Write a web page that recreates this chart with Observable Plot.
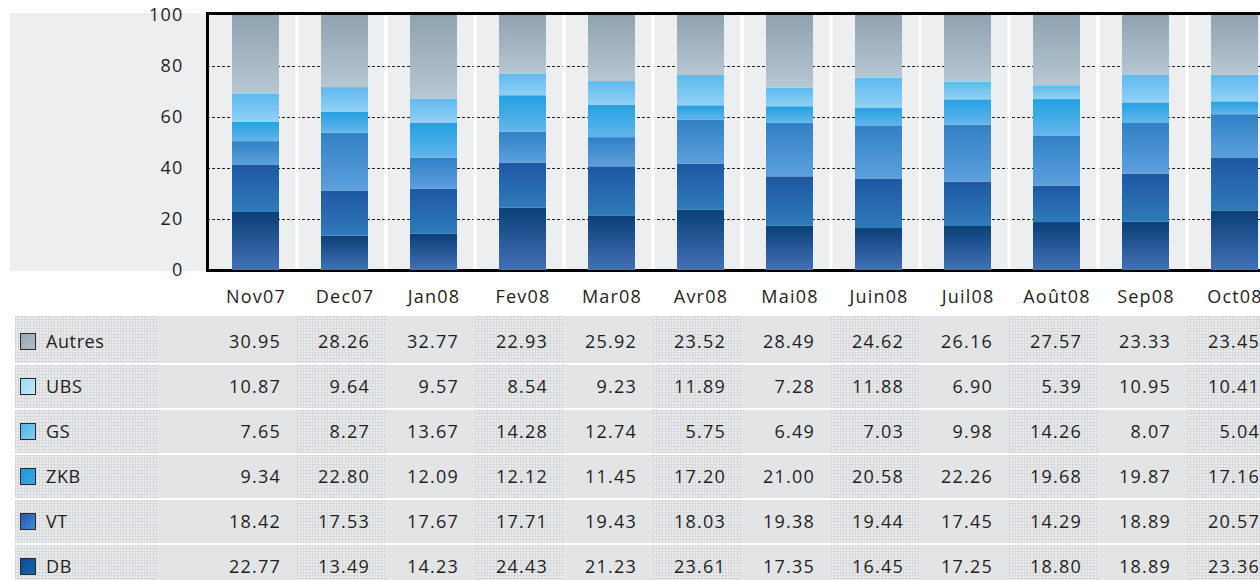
<!DOCTYPE html>
<html><head><meta charset="utf-8">
<script src="https://cdn.jsdelivr.net/npm/d3@7"></script>
<script src="https://cdn.jsdelivr.net/npm/@observablehq/plot@0.6"></script>
<style>
body{margin:0;background:#fff;overflow:hidden;font-family:"Open Sans",sans-serif;}
#wrap{position:relative;width:1290px;height:580px;overflow:hidden;}
#panel{position:absolute;left:10px;top:13px;width:1280px;height:258px;background:#edeef0;}
#chart{position:absolute;left:0;top:0;}
.cell{position:absolute;box-sizing:border-box;}
.tex{background-color:#e9eaeb;background-image:linear-gradient(rgba(200,202,205,.45) 1px,transparent 1px),linear-gradient(90deg,rgba(200,202,205,.45) 1px,transparent 1px);background-size:3px 3px;}
.plain{background:#e3e4e6;}
.txt{position:absolute;font-size:18px;letter-spacing:1.2px;color:#1e1e1e;white-space:nowrap;}
.sw{position:absolute;width:16px;height:17px;box-sizing:border-box;border:1px solid #2a2a2a;}
</style>
</head><body>
<div id="wrap"><div id="panel"></div><div id="chart"></div></div>
<script>
const months = ["Nov07","Dec07","Jan08","Fev08","Mar08","Avr08","Mai08","Juin08","Juil08","Août08","Sep08","Oct08"];
const tableOrder = ["Autres","UBS","GS","ZKB","VT","DB"];
const stackOrder = ["DB","VT","ZKB","GS","UBS","Autres"];
const autres = [30.95,28.26,32.77,22.93,25.92,23.52,28.49,24.62,26.16,27.57,23.33,23.45];
const ubs    = [10.87,9.64,9.57,8.54,9.23,11.89,7.28,11.88,6.90,5.39,10.95,10.41];
const gs     = [7.65,8.27,13.67,14.28,12.74,5.75,6.49,7.03,9.98,14.26,8.07,5.04];
const zkb    = [9.34,22.80,12.09,12.12,11.45,17.20,21.00,20.58,22.26,19.68,19.87,17.16];
const vt     = [18.42,17.53,17.67,17.71,19.43,18.03,19.38,19.44,17.45,14.29,18.89,20.57];
const db     = [22.77,13.49,14.23,24.43,21.23,23.61,17.35,16.45,17.25,18.80,18.89,23.36];
const yTicks = [0,20,40,60,80,100];
const gridTicks = [20,40,60,80];

const valuesBySeries = {Autres: autres, UBS: ubs, GS: gs, ZKB: zkb, VT: vt, DB: db};
const gradients = {
  Autres: ["#8fa2b0","#b7c7d3"],
  UBS: ["#5db9ed","#92d1f5"],
  GS: ["#23a0e2","#64b6ea"],
  ZKB: ["#3180c5","#5ca0dc"],
  VT: ["#1e57a4","#2f7bba"],
  DB: ["#0a3f77","#4371b7"]
};
const swatches = {
  Autres: ["#97a9b6","#aebdc8"],
  UBS: ["#9ed8f6","#c3e9fb"],
  GS: ["#4fb5e8","#86cdf1"],
  ZKB: ["#1d97d6","#3aa9e2"],
  VT: ["#2a58b0","#3f8bd0"],
  DB: ["#0b4f93","#1664ab"]
};

const data = stackOrder.flatMap(s => months.map((m, i) => ({month: m, series: s, value: valuesBySeries[s][i]})));

const chart = Plot.plot({
  width: 1290, height: 310,
  marginLeft: 207, marginRight: 0, marginTop: 15, marginBottom: 40,
  style: {fontFamily: "Open Sans", fontSize: "18px", letterSpacing: "1.2px", color: "#1e1e1e", background: "transparent", overflow: "visible"},
  x: {domain: months, range: [211, 1279], paddingInner: 0.47, paddingOuter: 0.235, tickSize: 0, tickPadding: 20, label: null},
  y: {domain: [0, 100], ticks: yTicks, tickSize: 0, tickPadding: 24, label: null},
  color: {domain: stackOrder, range: stackOrder.map(s => `url(#grad-${s})`)},
  marks: [
    Plot.ruleY(gridTicks, {stroke: "#222", strokeDasharray: "3,2", strokeWidth: 1}),
    Plot.ruleX(months, {x: d => d, dx: 41, stroke: "#fff", strokeWidth: 3}),
    Plot.frame({stroke: "#000", strokeWidth: 3, insetTop: -2}),
    Plot.barY(data, {x: "month", y: "value", fill: "series", order: stackOrder})
  ]
});

const svg = d3.select(chart);
const defs = svg.insert("defs", ":first-child");
for (const s of stackOrder) {
  const g = defs.append("linearGradient").attr("id", "grad-" + s)
    .attr("x1", 0).attr("y1", 0).attr("x2", 0).attr("y2", 1);
  g.append("stop").attr("offset", "0%").attr("stop-color", gradients[s][0]);
  g.append("stop").attr("offset", "100%").attr("stop-color", gradients[s][1]);
}
document.getElementById("chart").appendChild(chart);

// data table below the chart, aligned on the chart's x scale
const xs = chart.scale("x");
const wrap = document.getElementById("wrap");
const colRight = k => xs.apply(months[k]) + xs.bandwidth / 2 + 41;
function div(cls, css, text) {
  const d = document.createElement("div");
  d.className = cls;
  Object.assign(d.style, css);
  if (text !== undefined) d.textContent = text;
  wrap.appendChild(d);
  return d;
}
tableOrder.forEach((s, r) => {
  const top = r === 0 ? 316 : 320 + 45 * r;
  const bottom = 363 + 45 * r;
  const tTop = 320 + 45 * r;
  div("cell tex", {left: "15px", top: top + "px", width: "143px", height: (bottom - top) + "px"});
  div("sw", {left: "20px", top: (tTop + 13) + "px", background: `linear-gradient(135deg, ${swatches[s][0]}, ${swatches[s][1]})`});
  div("txt", {left: "46px", top: tTop + "px", height: "43px", lineHeight: "43px", letterSpacing: "0.6px"}, s);
  months.forEach((m, k) => {
    const left = k === 0 ? 158 : colRight(k - 1);
    const right = colRight(k);
    div("cell " + (k % 2 === 0 ? "plain" : "tex"), {left: left + "px", top: top + "px", width: (right - left) + "px", height: (bottom - top) + "px"});
    const re = xs.apply(m) + xs.bandwidth + 2;
    div("txt", {left: (re - 100) + "px", width: "100px", textAlign: "right", top: tTop + "px", height: "43px", lineHeight: "43px"}, valuesBySeries[s][k].toFixed(2));
  });
});
</script>
</body></html>
